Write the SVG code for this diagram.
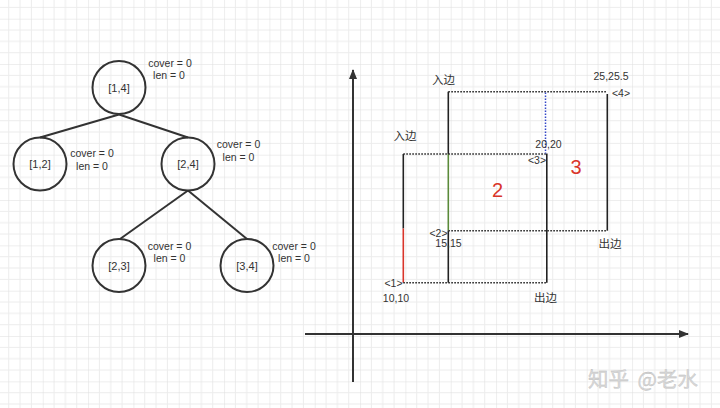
<svg xmlns="http://www.w3.org/2000/svg" width="720" height="408" viewBox="0 0 720 408">
<defs>
<pattern id="grid" patternUnits="userSpaceOnUse" x="-2.6" y="18.7" width="45.333" height="45.333">
<path d="M11.333 0V45.333M22.667 0V45.333M34 0V45.333M0 11.333H45.333M0 22.667H45.333M0 34H45.333" stroke="#ececec" stroke-width="1" fill="none"/>
<path d="M0 0V45.333M0 0H45.333" stroke="#dedede" stroke-width="1" fill="none"/>
</pattern>
<marker id="arr" viewBox="0 0 10 8" refX="9" refY="4" markerWidth="10" markerHeight="8" markerUnits="userSpaceOnUse" orient="auto">
<path d="M0 0L10 4L0 8Z" fill="#333"/>
</marker>
<style>
.c{fill:none;stroke:#333;stroke-width:2}
.e{stroke:#333;stroke-width:2;fill:none}
.t{font-family:"Liberation Sans","Noto Sans CJK SC",sans-serif;fill:#333;text-anchor:middle}
.n{font-size:11px}
.l{font-size:10.5px}
.z{font-size:11.5px}
.s{stroke:#222;stroke-width:1.6;fill:none}
.d{stroke:#2a2a2a;stroke-width:1.6;stroke-dasharray:1.6 1.4;fill:none}
.r{font-family:"Liberation Sans",sans-serif;font-size:20px;fill:#d9352a;text-anchor:middle}
</style>
</defs>
<rect width="720" height="408" fill="#fff"/>
<rect width="720" height="408" fill="url(#grid)"/>

<g id="edges">
<line class="e" x1="119" y1="114.5" x2="40" y2="137.5"/>
<line class="e" x1="119" y1="114.5" x2="188" y2="137.5"/>
<line class="e" x1="188" y1="190.5" x2="120" y2="239"/>
<line class="e" x1="188" y1="190.5" x2="247" y2="239"/>
</g>

<g id="n14">
<circle class="c" cx="119" cy="87.5" r="26.5"/>
<text class="t n" x="119" y="92">[1,4]</text>
<text class="t l" x="170" y="67">cover = 0</text>
<text class="t l" x="169" y="78.5">len = 0</text>
</g>
<g id="n12">
<circle class="c" cx="40" cy="164" r="26.5"/>
<text class="t n" x="40" y="168">[1,2]</text>
<text class="t l" x="92" y="157">cover = 0</text>
<text class="t l" x="92" y="169.5">len = 0</text>
</g>
<g id="n24">
<circle class="c" cx="188" cy="164" r="26.5"/>
<text class="t n" x="188" y="168">[2,4]</text>
<text class="t l" x="238.5" y="148">cover = 0</text>
<text class="t l" x="238.5" y="160.5">len = 0</text>
</g>
<g id="n23">
<circle class="c" cx="119" cy="265.5" r="26.5"/>
<text class="t n" x="119" y="269.5">[2,3]</text>
<text class="t l" x="169.5" y="249.5">cover = 0</text>
<text class="t l" x="169.5" y="261.5">len = 0</text>
</g>
<g id="n34">
<circle class="c" cx="247" cy="265.5" r="26.5"/>
<text class="t n" x="247" y="269.5">[3,4]</text>
<text class="t l" x="294" y="249.5">cover = 0</text>
<text class="t l" x="294" y="261.5">len = 0</text>
</g>

<g id="axes">
<line class="e" x1="353" y1="382" x2="353" y2="70" marker-end="url(#arr)"/>
<line class="e" x1="305" y1="334" x2="688" y2="334" marker-end="url(#arr)"/>
</g>

<g id="rects">
<line class="s" x1="403.3" y1="154" x2="403.3" y2="228.5"/>
<line stroke="#d9352a" stroke-width="1.6" x1="403.3" y1="228.5" x2="403.3" y2="282.7"/>
<line class="s" x1="448.3" y1="91.7" x2="448.3" y2="154"/>
<line stroke="#5a8a3a" stroke-width="1.6" x1="448.3" y1="154" x2="448.3" y2="230.7"/>
<line class="s" x1="448.3" y1="230.7" x2="448.3" y2="282.7"/>
<line class="s" x1="546.8" y1="153.5" x2="546.8" y2="282.7"/>
<line class="s" x1="607.3" y1="94" x2="607.3" y2="230.7"/>
<line class="d" x1="403.3" y1="154" x2="546.8" y2="154"/>
<line class="d" x1="403.3" y1="282.7" x2="546.8" y2="282.7"/>
<line class="d" x1="448.3" y1="91.7" x2="607.3" y2="91.7"/>
<line class="d" x1="448.3" y1="230.7" x2="607.3" y2="230.7"/>
<line stroke="#3346c8" stroke-width="1.5" stroke-dasharray="1.5 1.5" x1="545.5" y1="92.5" x2="545.5" y2="153.5"/>
</g>

<g id="labels">
<text class="t z" x="443.5" y="83.5">入边</text>
<text class="t z" x="405" y="139.5">入边</text>
<text class="t l" x="611" y="80">25,25.5</text>
<text class="t l" x="621" y="97">&lt;4&gt;</text>
<text class="t l" x="548.5" y="148">20,20</text>
<text class="t l" x="537" y="163.5">&lt;3&gt;</text>
<text class="t l" x="438.5" y="236.5">&lt;2&gt;</text>
<text class="t l" x="448.5" y="247">15,15</text>
<text class="t z" x="610" y="247.5">出边</text>
<text class="t l" x="393.5" y="287">&lt;1&gt;</text>
<text class="t l" x="396" y="302">10,10</text>
<text class="t z" x="545.5" y="301.5">出边</text>
<text class="r" x="497.5" y="197">2</text>
<text class="r" x="576" y="174">3</text>
</g>

<text x="588" y="387" font-family="'Noto Sans CJK SC',sans-serif" font-size="20.5" word-spacing="4" fill="#d8d8d8" stroke="#b8b8b8" stroke-width="0.3">知乎 @老水</text>
</svg>
